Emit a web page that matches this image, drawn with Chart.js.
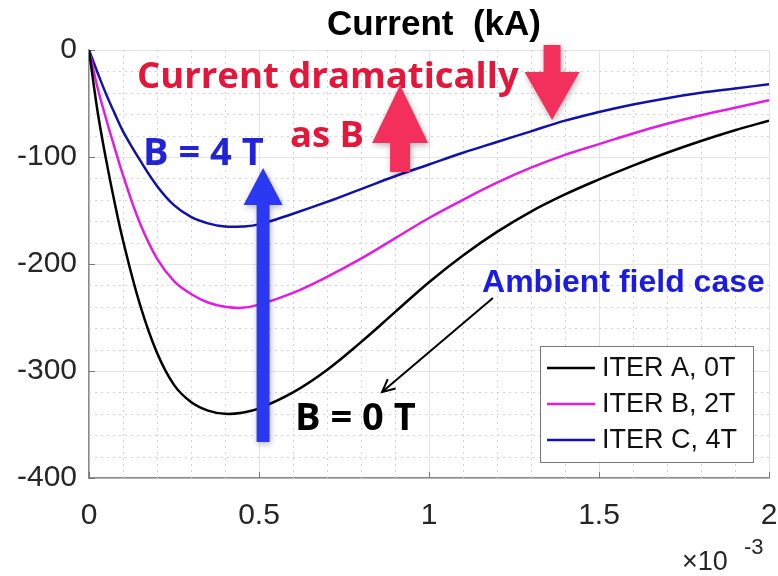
<!DOCTYPE html>
<html>
<head>
<meta charset="utf-8">
<script src="https://cdn.jsdelivr.net/npm/chart.js@4/dist/chart.umd.min.js"></script>
<style>
  html, body { margin: 0; padding: 0; background: #fff; }
  #wrap { width: 778px; height: 576px; }
</style>
</head>
<body>
<div id="wrap"><canvas id="chart" width="778" height="576"></canvas></div>
<script>
// time axis, in units of 1e-3
const times = [0, 0.025, 0.05, 0.075, 0.1, 0.15, 0.2, 0.25, 0.3, 0.35, 0.4, 0.45, 0.5, 0.6, 0.7, 0.8, 0.9, 1.0, 1.1, 1.2, 1.3, 1.4, 1.5, 1.6, 1.7, 1.8, 1.9, 2.0];
// current in kA
const iterA = [0, -57, -102, -142, -178, -238, -283, -313, -329, -337, -340, -339, -335, -320, -299, -273, -245, -217, -192, -170, -151, -135, -121, -108, -96, -85, -75, -66];
const iterB = [0, -35, -64, -91, -117, -162, -195, -216, -228, -236, -240, -241, -238, -227, -212, -195, -176, -157, -140, -124, -110, -98, -88, -78, -69, -61, -54, -47];
const iterC = [0, -21, -41, -59, -76, -103, -127, -145, -156, -162, -165, -165, -163, -153, -142, -130, -118, -107, -96, -86, -76, -66, -58, -51, -45, -40, -36, -32];

const seriesLabels = ['ITER A, 0T', 'ITER B, 2T', 'ITER C, 4T'];
const seriesColors = ['#000000', '#e01ee0', '#1212a8'];

const xTicks = [0, 0.5, 1, 1.5, 2];
const yTicks = [-400, -300, -200, -100, 0];

function toPoints(ys) {
    return times.map((t, i) => ({ x: t, y: ys[i] }));
}

const datasets = [iterA, iterB, iterC].map((ys, i) => ({
    label: seriesLabels[i],
    data: toPoints(ys),
    borderColor: seriesColors[i],
    borderWidth: 2.5,
    pointRadius: 0,
    fill: false,
    tension: 0.4
}));

// minor dotted grid + inward ticks
const minorGrid = {
    id: 'minorGrid',
    beforeDatasetsDraw(chart) {
        const ctx = chart.ctx;
        const xs = chart.scales.x, ys = chart.scales.y;
        const a = chart.chartArea;
        ctx.save();
        ctx.strokeStyle = '#d2d2d2';
        ctx.lineWidth = 1;
        ctx.setLineDash([2, 4]);
        for (let i = 1; i < 20; i++) {
            if (i % 5 === 0) continue;
            const px = Math.round(xs.getPixelForValue(i * 0.1)) + 0.5;
            ctx.beginPath(); ctx.moveTo(px, a.top); ctx.lineTo(px, a.bottom); ctx.stroke();
        }
        for (let i = 1; i < 20; i++) {
            if (i % 5 === 0) continue;
            const py = Math.round(ys.getPixelForValue(-i * 20)) + 0.5;
            ctx.beginPath(); ctx.moveTo(a.left, py); ctx.lineTo(a.right, py); ctx.stroke();
        }
        ctx.setLineDash([]);
        ctx.strokeStyle = '#777';
        xTicks.forEach(v => {
            const px = Math.round(xs.getPixelForValue(v)) + 0.5;
            ctx.beginPath(); ctx.moveTo(px, a.bottom); ctx.lineTo(px, a.bottom - 6); ctx.stroke();
        });
        yTicks.forEach(v => {
            const py = Math.round(ys.getPixelForValue(v)) + 0.5;
            ctx.beginPath(); ctx.moveTo(a.left, py); ctx.lineTo(a.left + 6, py); ctx.stroke();
        });
        ctx.restore();
    }
};

function blockArrow(ctx, cx, tipY, headY, endY, headHalf, shaftHalf) {
    ctx.beginPath();
    ctx.moveTo(cx, tipY);
    ctx.lineTo(cx + headHalf, headY);
    ctx.lineTo(cx + shaftHalf, headY);
    ctx.lineTo(cx + shaftHalf, endY);
    ctx.lineTo(cx - shaftHalf, endY);
    ctx.lineTo(cx - shaftHalf, headY);
    ctx.lineTo(cx - headHalf, headY);
    ctx.closePath();
    ctx.fill();
}

// title, legend, annotations
const overlay = {
    id: 'overlay',
    afterDraw(chart) {
        const ctx = chart.ctx;
        const xs = chart.scales.x, ys = chart.scales.y;
        const a = chart.chartArea;
        const X = v => xs.getPixelForValue(v);
        const Y = v => ys.getPixelForValue(v);
        ctx.save();

        // title
        ctx.fillStyle = '#000';
        ctx.font = 'bold 35px "Liberation Sans", Arial, sans-serif';
        ctx.textAlign = 'center';
        ctx.textBaseline = 'alphabetic';
        ctx.fillText('Current  (kA)', (a.left + a.right) / 2 + 5, 35);

        // x multiplier
        ctx.textAlign = 'left';
        ctx.fillStyle = '#262626';
        ctx.font = '27px "Liberation Sans", Arial, sans-serif';
        ctx.fillText('\u00d710', 682, 570);
        ctx.font = '22px "Liberation Sans", Arial, sans-serif';
        ctx.fillText('-3', 744, 554);

        // legend
        const lw = 213, lh = 116;
        const lx = a.right - 16 - lw, ly = a.bottom - 16 - lh;
        ctx.fillStyle = '#fff';
        ctx.fillRect(lx, ly, lw, lh);
        ctx.strokeStyle = '#777';
        ctx.lineWidth = 1;
        ctx.strokeRect(lx + 0.5, ly + 0.5, lw, lh);
        ctx.font = '27px "Liberation Sans", Arial, sans-serif';
        ctx.textBaseline = 'middle';
        chart.data.datasets.forEach((ds, i) => {
            const ry = ly + 22 + i * 36;
            ctx.strokeStyle = ds.borderColor;
            ctx.lineWidth = 2.5;
            ctx.beginPath(); ctx.moveTo(lx + 7, ry); ctx.lineTo(lx + 55, ry); ctx.stroke();
            ctx.fillStyle = '#111';
            ctx.fillText(ds.label, lx + 62, ry + 1);
        });

        // red arrows
        ctx.shadowColor = 'rgba(0,0,0,0.3)';
        ctx.shadowBlur = 6;
        ctx.shadowOffsetX = 1;
        ctx.shadowOffsetY = 2;
        ctx.fillStyle = '#f3305b';
        blockArrow(ctx, X(0.915), Y(-32.7), Y(-86.9), Y(-114), 28, 10);
        blockArrow(ctx, X(1.362), Y(-65.4), Y(-20.6), Y(4.7), 27.5, 8.5);

        // blue arrow
        ctx.fillStyle = '#2b38f2';
        blockArrow(ctx, X(0.512), Y(-110.3), Y(-144.9), Y(-366.4), 19.5, 6.5);
        ctx.shadowColor = 'transparent';
        ctx.shadowBlur = 0;
        ctx.shadowOffsetX = 0;
        ctx.shadowOffsetY = 0;

        // red text
        ctx.textBaseline = 'alphabetic';
        ctx.textAlign = 'left';
        ctx.fillStyle = '#e3173b';
        ctx.font = 'bold 36.5px "Open Sans", "Noto Sans", sans-serif';
        ctx.fillText('Current dramatically', X(0.141), Y(-35.5));
        ctx.fillText('as B', X(0.591), Y(-90.7));

        // B labels
        ctx.fillStyle = '#2222d6';
        ctx.font = 'bold 38px "Open Sans", "Noto Sans", sans-serif';
        ctx.fillText('B = 4 T', X(0.159), Y(-107.5));
        ctx.fillStyle = '#000';
        ctx.fillText('B = 0 T', X(0.606), Y(-355));

        // ambient field case
        ctx.fillStyle = '#1c1ce0';
        ctx.font = 'bold 32px "Liberation Sans", Arial, sans-serif';
        ctx.fillText('Ambient field case', X(1.156), Y(-226));

        // thin black arrow
        const x0 = X(1.188), y0 = Y(-231.8), x1 = X(0.862), y1 = Y(-319.6);
        ctx.strokeStyle = '#000';
        ctx.lineWidth = 2;
        ctx.beginPath(); ctx.moveTo(x0, y0); ctx.lineTo(x1, y1); ctx.stroke();
        const ang = Math.atan2(y1 - y0, x1 - x0);
        const hl = 14, hw = 0.45;
        ctx.beginPath();
        ctx.moveTo(x1 - hl * Math.cos(ang - hw), y1 - hl * Math.sin(ang - hw));
        ctx.lineTo(x1, y1);
        ctx.lineTo(x1 - hl * Math.cos(ang + hw), y1 - hl * Math.sin(ang + hw));
        ctx.stroke();

        ctx.restore();
    }
};

new Chart(document.getElementById('chart'), {
    type: 'line',
    data: { datasets: datasets },
    options: {
        responsive: false,
        animation: false,
        layout: { autoPadding: false, padding: { top: 50, right: 9, bottom: 0, left: 0 } },
        plugins: {
            legend: { display: false },
            title: { display: false },
            tooltip: { enabled: false }
        },
        scales: {
            x: {
                type: 'linear',
                min: 0,
                max: 2,
                afterBuildTicks: scale => { scale.ticks = xTicks.map(v => ({ value: v })); },
                afterFit: scale => {
                    scale.height = 98;
                    scale.paddingLeft = 0;
                    scale.paddingRight = 0;
                },
                grid: { color: '#e4e4e4', lineWidth: 1, drawTicks: false },
                border: { color: '#8a8a8a', width: 1.5 },
                ticks: {
                    padding: 20,
                    color: '#262626',
                    font: { family: '"Liberation Sans", Arial, sans-serif', size: 30 },
                    callback: v => String(v)
                }
            },
            y: {
                type: 'linear',
                min: -400,
                max: 0,
                afterBuildTicks: scale => { scale.ticks = yTicks.map(v => ({ value: v })); },
                afterFit: scale => {
                    scale.width = 89;
                    scale.paddingTop = 0;
                    scale.paddingBottom = 0;
                },
                grid: { color: '#e4e4e4', lineWidth: 1, drawTicks: false },
                border: { color: '#8a8a8a', width: 1.5 },
                ticks: {
                    padding: 12,
                    color: '#262626',
                    font: { family: '"Liberation Sans", Arial, sans-serif', size: 30 },
                    callback: v => String(v)
                }
            }
        }
    },
    plugins: [minorGrid, overlay]
});
</script>
</body>
</html>
